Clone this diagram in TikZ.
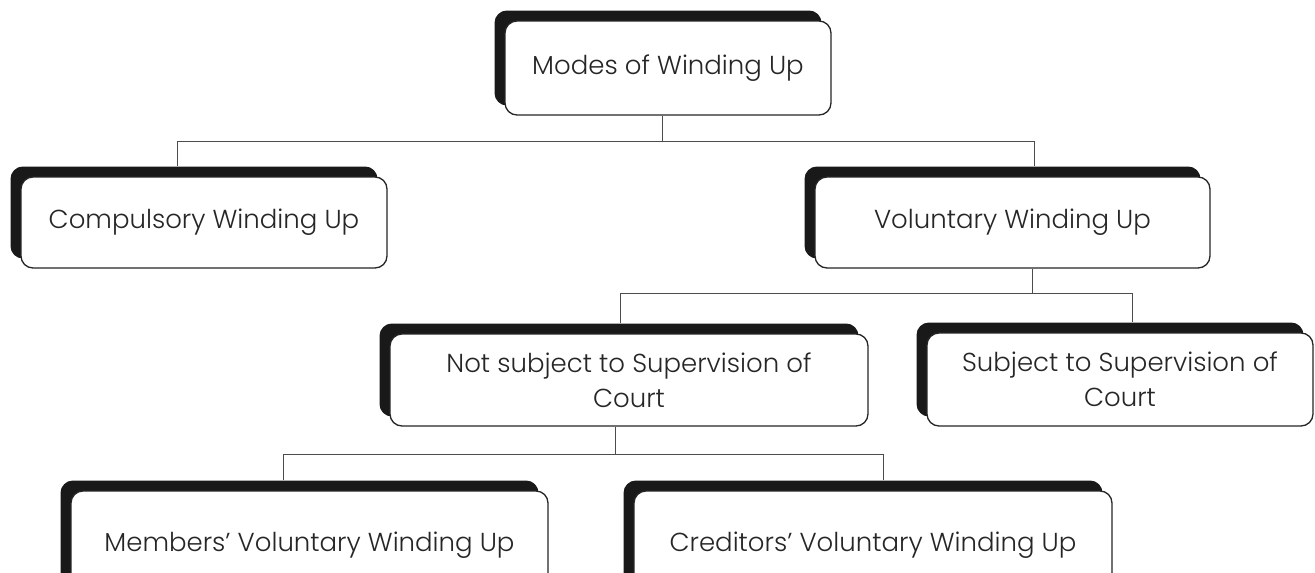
\documentclass[tikz,border=0pt]{standalone}
\usepackage{fontspec}
\setmainfont{Poppins}[UprightFont={* Light}]
\usetikzlibrary{shadows}
\tikzset{
  wbox/.style={draw=black!85, line width=1.3pt, fill=white, rounded corners=12pt,
    align=center, text=black!85, font=\fontsize{26}{35}\selectfont,
    inner sep=0pt,
    general shadow={shadow xshift=-10pt, shadow yshift=10pt, fill=black!90, draw=black!90, line width=1pt}},
  conn/.style={draw=black!70, line width=1pt}
}
\begin{document}
\begin{tikzpicture}[x=1pt,y=-1pt]
\useasboundingbox (0,0) rectangle (1315,573);
\begin{scope}
\clip (0,0) rectangle (1315,573);
\node[wbox, minimum width=326pt, minimum height=94pt] (top) at (668,68) {Modes of Winding Up};
\node[wbox, minimum width=366pt, minimum height=91pt] (comp) at (204,222.5) {Compulsory Winding Up};
\node[wbox, minimum width=395pt, minimum height=91pt] (vol) at (1012.5,222.5) {Voluntary Winding Up};
\node[wbox, minimum width=478pt, minimum height=92pt] (notsub) at (629,380) {Not subject to Supervision of\\Court};
\node[wbox, minimum width=386pt, minimum height=93pt] (sub) at (1120,379.5) {Subject to Supervision of\\Court};
\node[wbox, minimum width=477pt, minimum height=108pt] (mem) at (309.5,545) {Members' Voluntary Winding Up};
\node[wbox, minimum width=478pt, minimum height=108pt] (cred) at (873,545) {Creditors' Voluntary Winding Up};
\end{scope}
% connectors
\draw[conn] ([xshift=-6pt]top.south) -- ++(0,26) coordinate (j1);
\draw[conn] ([xshift=-27pt,yshift=10pt]comp.north) |- (j1) -| ([xshift=21.5pt,yshift=10pt]vol.north);
\draw[conn] ([xshift=19.5pt]vol.south) -- ++(0,25) coordinate (j2);
\draw[conn] ([xshift=-9pt,yshift=10pt]notsub.north) |- (j2) -| ([xshift=12pt,yshift=10pt]sub.north);
\draw[conn] ([xshift=-14pt]notsub.south) -- ++(0,28) coordinate (j3);
\draw[conn] ([xshift=-26.5pt,yshift=10pt]mem.north) |- (j3) -| ([xshift=10pt,yshift=10pt]cred.north);
\end{tikzpicture}
\end{document}
